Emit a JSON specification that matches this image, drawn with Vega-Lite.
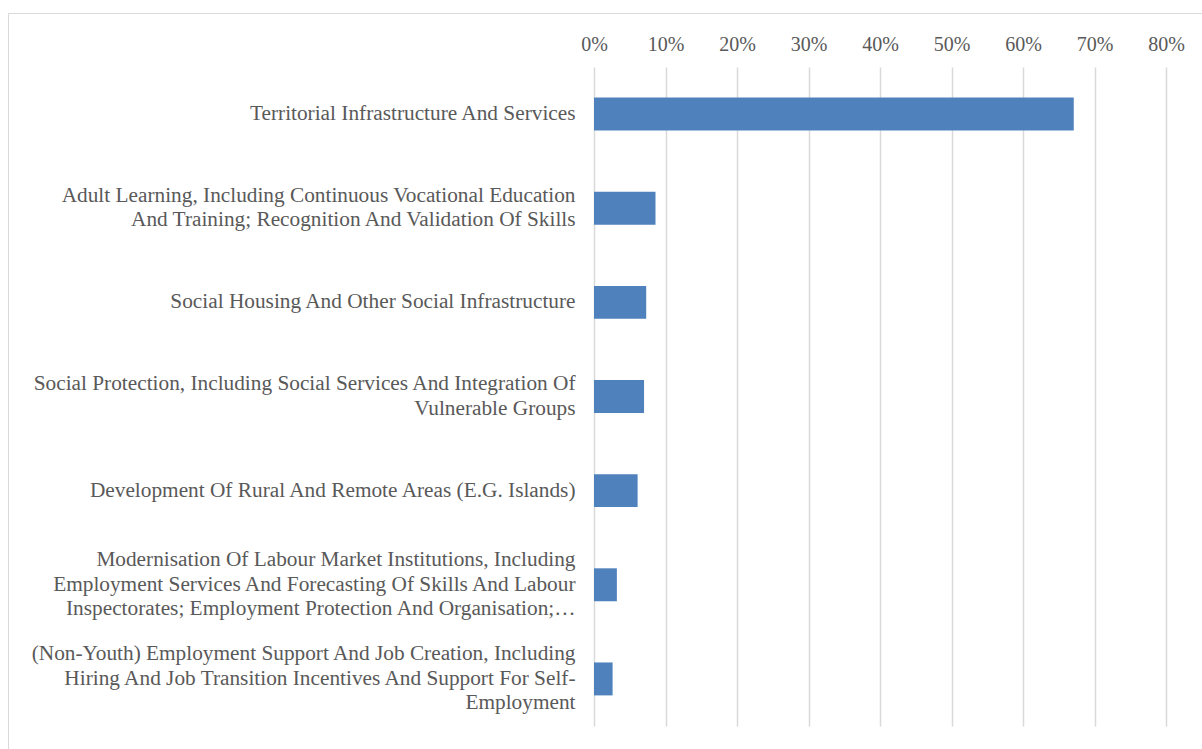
{
  "$schema": "https://vega.github.io/schema/vega-lite/v6.json",
  "autosize": {"type": "none"},
  "padding": {"left": 8, "top": 13, "right": -5, "bottom": -5},
  "width": 1199,
  "height": 741,
  "background": "white",
  "config": {
    "view": {"stroke": "#D9D9D9", "strokeWidth": 1},
    "font": "Liberation Serif"
  },
  "data": {
    "values": [
      {"category": "Territorial Infrastructure And Services", "share": 0.671},
      {"category": "Adult Learning, Including Continuous Vocational Education|And Training; Recognition And Validation Of Skills", "share": 0.086},
      {"category": "Social Housing And Other Social Infrastructure", "share": 0.073},
      {"category": "Social Protection, Including Social Services And Integration Of|Vulnerable Groups", "share": 0.070},
      {"category": "Development Of Rural And Remote Areas (E.G. Islands)", "share": 0.061},
      {"category": "Modernisation Of Labour Market Institutions, Including|Employment Services And Forecasting Of Skills And Labour|Inspectorates; Employment Protection And Organisation;…", "share": 0.032},
      {"category": "(Non-Youth) Employment Support And Job Creation, Including|Hiring And Job Transition Incentives And Support For Self-|Employment", "share": 0.026}
    ]
  },
  "mark": {"type": "bar", "color": "#4F81BD"},
  "encoding": {
    "y": {
      "field": "category",
      "type": "nominal",
      "sort": null,
      "title": null,
      "scale": {"range": [54, 713], "paddingInner": 0.65, "paddingOuter": 0.325},
      "axis": {
        "orient": "left",
        "domain": false,
        "ticks": false,
        "grid": false,
        "labelPadding": -567,
        "labelLimit": 0,
        "labelFontSize": 21.3,
        "labelColor": "#595959",
        "labelAlign": "right",
        "labelBaseline": "middle",
        "labelLineHeight": 24.5,
        "labelOffset": {
          "condition": [
            {"test": "length(split(datum.value, '|')) == 3", "value": -24.5},
            {"test": "length(split(datum.value, '|')) == 2", "value": -12.25}
          ],
          "value": 0
        },
        "labelExpr": "split(datum.label, '|')"
      }
    },
    "x": {
      "field": "share",
      "type": "quantitative",
      "title": null,
      "scale": {"domain": [0, 0.8], "range": [586, 1158], "nice": false, "zero": true},
      "axis": {
        "orient": "top",
        "format": ".0%",
        "values": [0, 0.1, 0.2, 0.3, 0.4, 0.5, 0.6, 0.7, 0.8],
        "domain": false,
        "ticks": false,
        "grid": true,
        "gridColor": "#D9D9D9",
        "gridWidth": 1.5,
        "labelPadding": -31,
        "labelFontSize": 20,
        "labelColor": "#595959",
        "labelBaseline": "middle",
        "labelFlush": false,
        "labelOverlap": false
      }
    }
  }
}
